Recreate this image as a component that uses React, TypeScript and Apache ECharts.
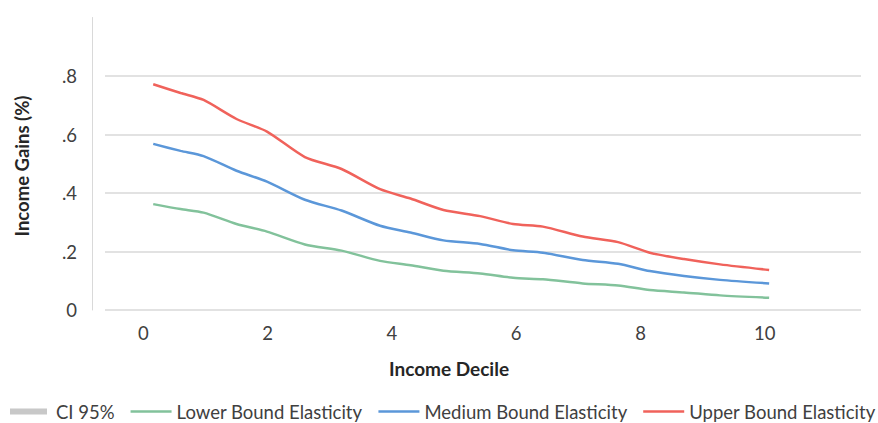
import React, { useEffect, useRef } from "react";
import * as echarts from "echarts";

const deciles = [0.16, 0.6, 0.97, 1.5, 1.99, 2.6, 3.19, 3.81, 4.3, 4.83, 5.42, 5.95, 6.43, 7.07, 7.64, 8.15, 8.7, 9.28, 10.07];
const lowerBound = [0.362, 0.345, 0.333, 0.294, 0.268, 0.224, 0.203, 0.168, 0.153, 0.134, 0.125, 0.11, 0.105, 0.091, 0.084, 0.068, 0.06, 0.05, 0.042];
const mediumBound = [0.568, 0.544, 0.526, 0.476, 0.439, 0.377, 0.34, 0.288, 0.265, 0.238, 0.226, 0.204, 0.196, 0.171, 0.158, 0.133, 0.116, 0.103, 0.091];
const upperBound = [0.772, 0.742, 0.718, 0.653, 0.61, 0.523, 0.482, 0.413, 0.381, 0.342, 0.321, 0.294, 0.285, 0.251, 0.232, 0.196, 0.174, 0.156, 0.137];
const xTickValues = [0, 2, 4, 6, 8, 10];
const yTickLabels: Record<string, string> = { "0": "0", "0.2": ".2", "0.4": ".4", "0.6": ".6", "0.8": ".8", "1": "" };
const seriesNames = ["CI 95%", "Lower Bound Elasticity", "Medium Bound Elasticity", "Upper Bound Elasticity"];

const FONT = "Lato, 'Open Sans', sans-serif";
const LINE_ICON = "path://M0,0M41,6M0,1.75h41v2.5h-41z";
const RECT_ICON = "path://M41,6M0,0h37v6h-37z";

const pair = (ys: number[]) => deciles.map((x, i) => [x, ys[i]]);

export default function App() {
  const ref = useRef<HTMLDivElement>(null);
  useEffect(() => {
    if (!ref.current) return;
    const chart = echarts.init(ref.current, null, { renderer: "svg" });
    const lineSeries = (name: string, data: number[], color: string) => ({
      name,
      type: "line",
      data: pair(data),
      smooth: 0.25,
      symbol: "none",
      itemStyle: { color },
      lineStyle: { color, width: 2.5 },
    });
    chart.setOption({
      animation: false,
      backgroundColor: "#ffffff",
      textStyle: { fontFamily: FONT },
      grid: { left: 105, right: 17, top: 17.5, bottom: 113, containLabel: false },
      xAxis: {
        type: "value",
        min: -0.616,
        max: 11.548,
        axisLine: { show: false },
        axisTick: { show: false },
        splitLine: { show: false },
        axisLabel: {
          customValues: xTickValues,
          margin: 13,
          fontSize: 18.5,
          color: "#404040",
          fontFamily: FONT,
        },
      },
      yAxis: {
        type: "value",
        min: 0,
        max: 1,
        interval: 0.2,
        offset: 13,
        axisLine: { show: true, onZero: false, lineStyle: { color: "#d9d9d9", width: 1 } },
        axisTick: { show: false },
        splitLine: { show: true, showMaxLine: false, lineStyle: { color: "#d9d9d9", width: 1.5 } },
        axisLabel: {
          margin: 15,
          fontSize: 18.5,
          color: "#404040",
          fontFamily: FONT,
          formatter: (v: number) => {
            const k = String(Math.round(v * 10) / 10);
            return yTickLabels[k] ?? "";
          },
        },
      },
      legend: {
        left: 10,
        top: 402,
        width: 900,
        padding: 0,
        itemWidth: 41,
        itemHeight: 6,
        itemGap: 16,
        textStyle: { fontSize: 18.5, color: "#404040", fontFamily: FONT },
        data: [
          { name: seriesNames[0], icon: RECT_ICON },
          { name: seriesNames[1], icon: LINE_ICON },
          { name: seriesNames[2], icon: LINE_ICON },
          { name: seriesNames[3], icon: LINE_ICON },
        ],
      },
      graphic: [
        {
          type: "text",
          x: 449,
          y: 368,
          style: {
            text: "Income Decile",
            fontSize: 19,
            fontWeight: "bold",
            fill: "#262626",
            fontFamily: FONT,
            align: "center",
            verticalAlign: "middle",
          },
        },
        {
          type: "text",
          x: 22,
          y: 166,
          rotation: Math.PI / 2,
          style: {
            text: "Income Gains (%)",
            fontSize: 18.5,
            fontWeight: "bold",
            fill: "#262626",
            fontFamily: FONT,
            align: "center",
            verticalAlign: "middle",
          },
        },
      ],
      series: [
        {
          name: seriesNames[0],
          type: "line",
          data: [],
          symbol: "none",
          itemStyle: { color: "#c8c8c8" },
          lineStyle: { color: "#c8c8c8", width: 6 },
        },
        lineSeries(seriesNames[1], lowerBound, "#82c29b"),
        lineSeries(seriesNames[2], mediumBound, "#5b97d9"),
        lineSeries(seriesNames[3], upperBound, "#f0625b"),
      ],
    });
    return () => chart.dispose();
  }, []);
  return <div ref={ref} style={{ width: 878, height: 423, position: "absolute", left: 0, top: 0 }} />;
}
